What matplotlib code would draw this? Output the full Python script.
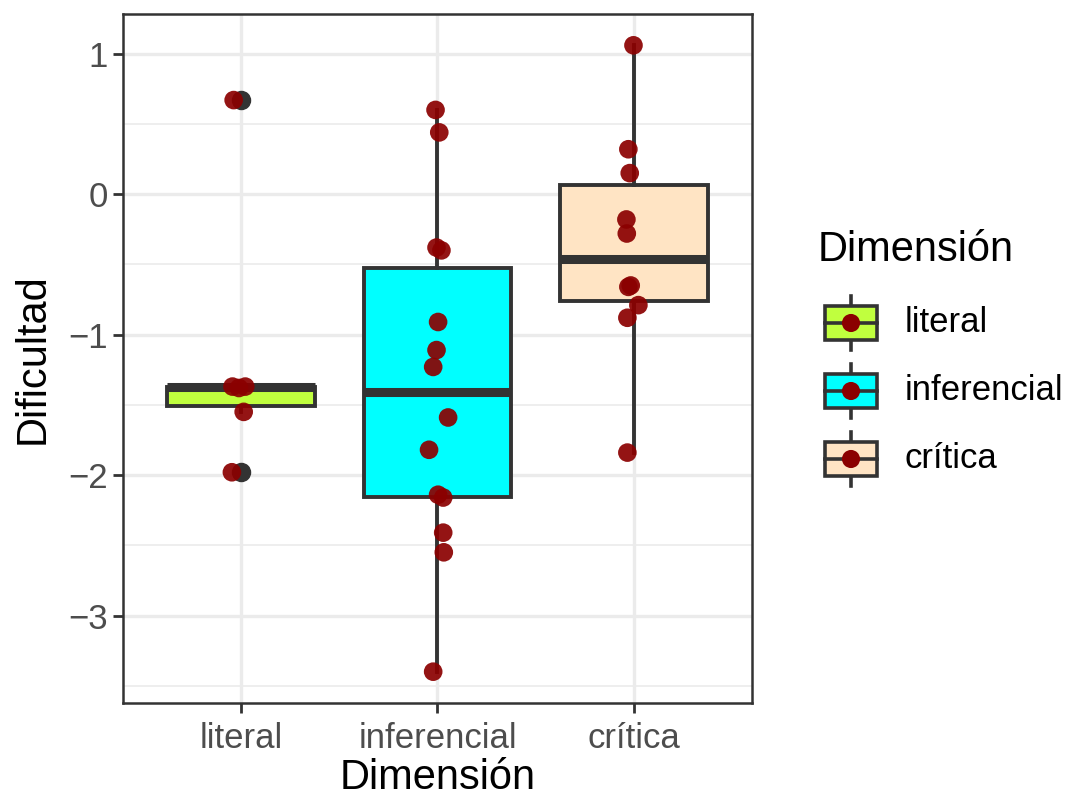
import numpy as np
import matplotlib
matplotlib.use("Agg")
import matplotlib.pyplot as plt
from matplotlib.patches import Rectangle

plt.rcParams['font.family'] = ['Liberation Sans', 'DejaVu Sans']

# datos
categorias = ['literal', 'inferencial', 'crítica']
colores = ['#C0FF3E', '#00FFFF', '#FFE4C4']

dif_literal = [0.67, -1.37, -1.37, -1.38, -1.55, -1.98]
dif_inferencial = [0.60, 0.44, -0.38, -0.40, -0.91, -1.11, -1.23,
                   -1.59, -1.82, -2.14, -2.16, -2.41, -2.55, -3.40]
dif_critica = [1.06, 0.32, 0.15, -0.18, -0.28, -0.65, -0.66,
               -0.79, -0.88, -1.84]

# desplazamiento horizontal (jitter) de cada punto
jit_literal = [-0.037, -0.043, 0.022, -0.010, 0.014, -0.046]
jit_inferencial = [-0.010, 0.009, -0.005, 0.020, 0.003, -0.005, -0.022,
                   0.054, -0.043, 0.003, 0.029, 0.029, 0.032, -0.022]
jit_critica = [-0.003, -0.029, -0.022, -0.039, -0.037, -0.017, -0.029,
               0.022, -0.034, -0.034]

datos = [dif_literal, dif_inferencial, dif_critica]
jitter = [jit_literal, jit_inferencial, jit_critica]

ROJO = '#8B0000'
OSCURO = '#333333'

fig = plt.figure(figsize=(10.65, 7.99), dpi=100)
ax = fig.add_axes([123 / 1065, 1 - 703 / 799, 629 / 1065, 689 / 799])

pos = np.arange(1, len(categorias) + 1)
bp = ax.boxplot(datos, positions=pos, widths=0.75, patch_artist=True,
                showcaps=False, whis=1.5, zorder=3,
                boxprops=dict(edgecolor=OSCURO, linewidth=2.8),
                whiskerprops=dict(color=OSCURO, linewidth=2.8),
                medianprops=dict(color=OSCURO, linewidth=6.5, solid_capstyle='butt'),
                flierprops=dict(marker='o', markerfacecolor=OSCURO,
                                markeredgecolor=OSCURO, markersize=13))
for caja, c in zip(bp['boxes'], colores):
    caja.set_facecolor(c)

for i, (vals, jit) in enumerate(zip(datos, jitter)):
    x = pos[i] + np.array(jit)
    ax.scatter(x, vals, s=180, color=ROJO, alpha=0.92, edgecolors='none', zorder=5)

todos = np.concatenate(datos)
rango = todos.max() - todos.min()
ax.set_ylim(todos.min() - 0.05 * rango, todos.max() + 0.05 * rango)
ax.set_xlim(0.4, 3.6)

ax.set_yticks([-3, -2, -1, 0, 1])
ax.set_yticks(np.arange(-3.5, 1.5, 0.5), minor=True)
ax.set_xticks(pos)
ax.set_xticklabels(categorias)

ax.grid(True, which='major', color='#EBEBEB', linewidth=2.4, zorder=0)
ax.grid(True, which='minor', axis='y', color='#EBEBEB', linewidth=1.2, zorder=0)
ax.set_axisbelow(True)
ax.tick_params(which='minor', length=0)
ax.tick_params(which='major', length=7, width=2, color=OSCURO,
               labelsize=25, labelcolor='#4D4D4D', pad=4)
ax.tick_params(axis='x', pad=7)
for s in ax.spines.values():
    s.set_color(OSCURO)
    s.set_linewidth(1.8)

ax.set_xlabel('Dimensión', fontsize=30, labelpad=2)
ax.set_ylabel('Dificultad', fontsize=30, labelpad=11)

# leyenda dibujada a mano en coordenadas de pixel
lg = fig.add_axes([800 / 1065, (799 - 500) / 799, 265 / 1065, 300 / 799])
lg.set_xlim(800, 1065)
lg.set_ylim(500, 200)
lg.axis('off')
lg.text(818, 250, 'Dimensión', fontsize=30, va='center', ha='left')
for i, (cat, c) in enumerate(zip(categorias, colores)):
    yc = 323 + 68 * i
    lg.plot([851, 851], [yc - 27, yc + 27], color=OSCURO, lw=2.6, zorder=1)
    lg.add_patch(Rectangle((825, yc - 17), 52, 34, facecolor=c,
                           edgecolor=OSCURO, lw=2.6, zorder=2))
    lg.plot([825, 877], [yc, yc], color=OSCURO, lw=2.6, zorder=3)
    lg.scatter([851], [yc], s=170, color=ROJO, edgecolors='none', zorder=4)
    lg.text(905, yc, cat, fontsize=25, va='center', ha='left')

fig.savefig('out.png', dpi=100)
